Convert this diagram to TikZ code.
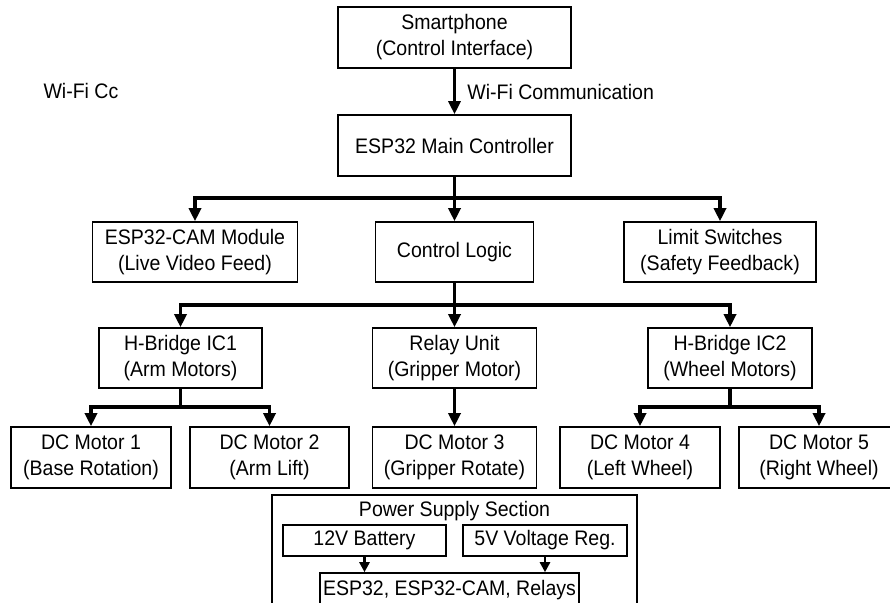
\documentclass[tikz,border=0pt]{standalone}
\usepackage{fontspec}
\setmainfont{Liberation Sans}[FakeStretch=0.93]
\usetikzlibrary{arrows.meta}

\begin{document}
\begin{tikzpicture}[x=1pt, y=-1pt,
  every node/.style={font=\fontsize{21}{26}\selectfont},
  blk/.style={draw, line width=1.6pt, align=center, inner sep=0pt, minimum height=60pt},
  bus/.style={line width=3.6pt},
  feed/.style={bus, -{Triangle[length=13pt,width=12pt]}},
  psfeed/.style={line width=2.8pt, -{Triangle[length=10pt,width=10pt]}}]
  % canvas 890 x 602 px, y grows downwards
  \fill[white] (0,0) rectangle (890,602);
  \useasboundingbox (0,0) rectangle (890,602);

  % ── top: phone and main controller ──
  \node[blk, minimum width=233pt, minimum height=61pt] (phone) at (454.5,37.5)
    {Smartphone\\(Control Interface)};
  \node[blk, minimum width=233pt, minimum height=61pt] (esp) at (454.5,145.5)
    {ESP32 Main Controller};
  \draw[feed, line width=3pt] (phone) -- (esp)
    node[midway, anchor=west, xshift=8pt] (wifi) {Wi-Fi Communication};
  \node[anchor=west] (wific) at (40,91) {Wi-Fi Cc};

  % ── first fork: camera, logic, switches ──
  \coordinate (fork1) at (454.5,198);
  \node[blk, minimum width=205pt] (cam) at (195,252) {ESP32-CAM Module\\(Live Video Feed)};
  \node[blk, minimum width=158pt] (logic) at (454.5,252) {Control Logic};
  \node[blk, minimum width=192pt] (limit) at (720,252) {Limit Switches\\(Safety Feedback)};
  \draw[bus] (esp) -- (fork1);
  \draw[feed] (fork1) -| (cam);
  \draw[feed] (fork1) -- (logic);
  \draw[feed] (fork1) -| (limit);

  % ── second fork: drivers ──
  \coordinate (fork2) at (454.5,305);
  \node[blk, minimum width=163pt] (hb1) at (180.5,358) {H-Bridge IC1\\(Arm Motors)};
  \node[blk, minimum width=164pt] (relay) at (454.5,358) {Relay Unit\\(Gripper Motor)};
  \node[blk, minimum width=164pt] (hb2) at (730,358) {H-Bridge IC2\\(Wheel Motors)};
  \draw[bus] (logic) -- (fork2);
  \draw[feed] (fork2) -| (hb1);
  \draw[feed] (fork2) -- (relay);
  \draw[feed] (fork2) -| (hb2);

  % ── motors ──
  \node[blk, minimum width=160pt, minimum height=61pt] (m1) at (91,457.5) {DC Motor 1\\(Base Rotation)};
  \node[blk, minimum width=159pt, minimum height=61pt] (m2) at (269.5,457.5) {DC Motor 2\\(Arm Lift)};
  \node[blk, minimum width=164pt, minimum height=61pt] (m3) at (454.5,457.5) {DC Motor 3\\(Gripper Rotate)};
  \node[blk, minimum width=160pt, minimum height=61pt] (m4) at (640,457.5) {DC Motor 4\\(Left Wheel)};
  \node[blk, minimum width=160pt, minimum height=61pt] (m5) at (819,457.5) {DC Motor 5\\(Right Wheel)};
  \coordinate (fork3) at (180.5,407);
  \coordinate (fork4) at (730,407);
  \draw[bus] (hb1) -- (fork3);
  \draw[feed] (fork3) -| (m1);
  \draw[feed] (fork3) -| (m2);
  \draw[feed] (relay) -- (m3);
  \draw[bus] (hb2) -- (fork4);
  \draw[feed] (fork4) -| (m4);
  \draw[feed] (fork4) -| (m5);

  % ── power supply section (cut by the lower edge) ──
  \node[blk, minimum width=365pt, minimum height=150pt] (psu) at (454.5,570) {};
  \node (psutitle) at (454.5,511) {Power Supply Section};
  \node[blk, minimum width=163pt, minimum height=31pt] (batt) at (364.5,540.5) {12V Battery};
  \node[blk, minimum width=164pt, minimum height=31pt] (reg) at (545,540.5) {5V Voltage Reg.};
  \node[blk, minimum width=259pt, minimum height=34pt] (load) at (449.5,590) {ESP32, ESP32-CAM, Relays};
  \draw[psfeed] (batt) -- (batt |- load.north);
  \draw[psfeed] (reg) -- (reg |- load.north);
\end{tikzpicture}
\end{document}
